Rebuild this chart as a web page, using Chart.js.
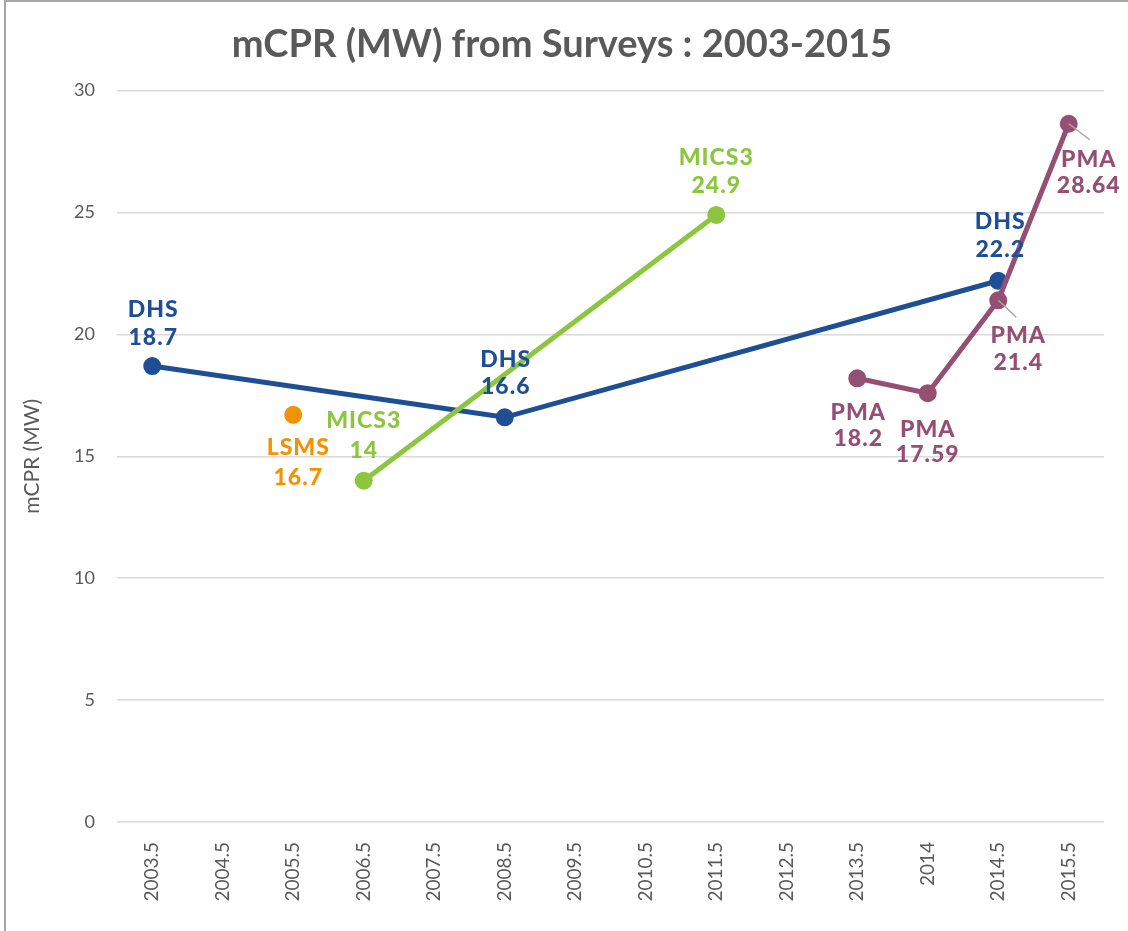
<!DOCTYPE html>
<html>
<head>
<meta charset="utf-8">
<script src="https://cdn.jsdelivr.net/npm/chart.js@4"></script>
<style>
  html, body { margin: 0; padding: 0; background: #fff; }
  #wrap { position: absolute; left: 0; top: 0; width: 1128px; height: 931px; }
  #frame { position: absolute; left: 4px; top: 0; width: 1130px; height: 935px; border-top: 2px solid #a6a6a6; border-left: 2px solid #a6a6a6; box-sizing: border-box; pointer-events: none; }
</style>
</head>
<body>
<div id="wrap"><canvas id="mcprChart" width="1128" height="931"></canvas></div>
<div id="frame"></div>
<script>
// survey rounds on the x axis (category positions)
var categories = ['2003.5', '2004.5', '2005.5', '2006.5', '2007.5', '2008.5', '2009.5',
                  '2010.5', '2011.5', '2012.5', '2013.5', '2014', '2014.5', '2015.5'];
var dhsValues   = [18.7, null, null, null, null, 16.6, null, null, null, null, null, null, 22.2, null];
var lsmsValues  = [null, null, 16.7, null, null, null, null, null, null, null, null, null, null, null];
var mics3Values = [null, null, null, 14, null, null, null, null, 24.9, null, null, null, null, null];
var pmaValues   = [null, null, null, null, null, null, null, null, null, null, 18.2, 17.59, 21.4, 28.64];
var yTicks = [0, 5, 10, 15, 20, 25, 30];

var FONT = 'Lato, "Open Sans", sans-serif';

/* two-line "NAME / value" labels next to each point */
var pointLabels = {
    id: 'pointLabels',
    afterDatasetsDraw: function(chart) {
        var ctx = chart.ctx;
        ctx.save();
        ctx.font = '900 23px ' + FONT;
        if ('letterSpacing' in ctx) ctx.letterSpacing = '1px';
        ctx.textAlign = 'center';
        ctx.textBaseline = 'middle';
        chart.data.datasets.forEach(function(ds, i) {
            var meta = chart.getDatasetMeta(i);
            meta.data.forEach(function(pt, j) {
                var v = ds.data[j];
                if (v === null || v === undefined) return;
                var off = (ds.labelPos && ds.labelPos[j]) || [0, -58, -30];
                if (off[3]) {
                    ctx.strokeStyle = '#a6a6a6';
                    ctx.lineWidth = 1.5;
                    ctx.beginPath();
                    ctx.moveTo(pt.x, pt.y);
                    ctx.lineTo(pt.x + off[3][0], pt.y + off[3][1]);
                    ctx.stroke();
                }
                ctx.fillStyle = ds.borderColor;
                ctx.fillText(ds.label, pt.x + off[0], pt.y + off[1]);
                ctx.fillText(String(v), pt.x + off[0], pt.y + off[2]);
            });
        });
        ctx.restore();
    }
};

function series(label, values, color, labelPos) {
    return {
        label: label,
        data: values,
        borderColor: color,
        backgroundColor: color,
        pointBackgroundColor: color,
        pointBorderColor: color,
        borderWidth: 5,
        pointRadius: 6.5,
        pointHoverRadius: 6.5,
        spanGaps: true,
        tension: 0,
        labelPos: labelPos
    };
}

var ctx = document.getElementById('mcprChart');
new Chart(ctx, {
    type: 'line',
    data: {
        labels: categories,
        datasets: [
            series('PMA', pmaValues, '#954f73', {
                10: [1, 34, 60],
                11: [0, 36, 61],
                12: [20, 35, 62, [18, 17]],
                13: [20, 36, 62, [21, 16]]
            }),
            series('MICS3', mics3Values, '#8cc63f', {
                3: [0, -60, -30],
                8: [0, -57, -29]
            }),
            series('LSMS', lsmsValues, '#f39200', {
                2: [5, 33, 63]
            }),
            series('DHS', dhsValues, '#1e4f95', {
                0: [1, -57, -29],
                5: [1, -58, -31],
                12: [2, -59, -31]
            })
        ]
    },
    options: {
        responsive: false,
        animation: false,
        layout: { padding: { left: 20, right: 24, top: 10, bottom: 0 } },
        plugins: {
            legend: { display: false },
            tooltip: { enabled: false },
            title: {
                display: true,
                text: 'mCPR (MW) from Surveys : 2003-2015',
                color: '#595959',
                font: { family: FONT, size: 38, weight: 'bold' },
                padding: { top: 12, bottom: 23 }
            }
        },
        scales: {
            x: {
                offset: true,
                grid: { display: false, drawTicks: false, offset: true },
                border: { display: false },
                ticks: {
                    color: '#595959',
                    font: { family: FONT, size: 19 },
                    minRotation: 90,
                    maxRotation: 90,
                    padding: 20
                },
                afterFit: function(scale) { scale.height = 109; }
            },
            y: {
                min: 0,
                max: 30,
                afterBuildTicks: function(scale) {
                    scale.ticks = yTicks.map(function(v) { return { value: v }; });
                },
                grid: { color: '#d9d9d9', lineWidth: 1.5, drawTicks: false },
                border: { display: false },
                ticks: {
                    color: '#595959',
                    font: { family: FONT, size: 18 },
                    padding: 22
                },
                title: {
                    display: true,
                    text: 'mCPR (MW)',
                    color: '#595959',
                    font: { family: FONT, size: 21 },
                    padding: { top: 0, bottom: 0 }
                },
                afterFit: function(scale) { scale.width = 97; }
            }
        }
    },
    plugins: [pointLabels]
});
</script>
</body>
</html>
